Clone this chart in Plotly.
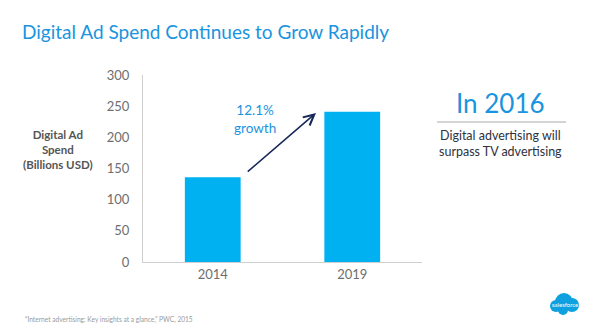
import plotly.graph_objects as go

years = ["2014", "2019"]
spend = [136, 241]
y_ticks = [0, 50, 100, 150, 200, 250, 300]
growth_label = "12.1%<br>growth"

W, H = 600, 329
L, R, T, B = 143, 422, 75, 262

def px(x):
    return (x - L) / (R - L)

def py(y):
    return (B - y) / (B - T)

FONT = "Lato"
BLUE_TXT = "#1a94de"
BAR = "#00b1f2"

fig = go.Figure()
fig.add_trace(go.Bar(x=[0, 1], y=spend, width=0.4, marker=dict(color=BAR, line=dict(width=0)),
                     hoverinfo="skip"))

C = dict(xanchor="center", yanchor="middle", showarrow=False)
anns = []
# arrow from 2014 bar top to 2019 bar top
anns.append(dict(x=0.74, y=spend[1] - 2, xref="x", yref="y", ax=0.24, ay=spend[0] + 7,
                 axref="x", ayref="y", showarrow=True, arrowhead=5, arrowsize=1.3,
                 arrowwidth=1.6, arrowcolor="#17285a", text=""))
anns.append(dict(x=0.30, y=229, xref="x", yref="y", text=growth_label, align="center",
                 font=dict(family=FONT, size=13.5, color=BLUE_TXT), **C))
# y-axis title
anns.append(dict(x=px(58), y=py(149), xref="paper", yref="paper",
                 text="<b>Digital Ad<br>Spend<br>(Billions USD)</b>", align="center",
                 font=dict(family=FONT, size=11.5, color="#555555"), **C))
# right callout
anns.append(dict(x=px(500), y=py(103), xref="paper", yref="paper", text="In 2016",
                 font=dict(family=FONT, size=26, color=BLUE_TXT), **C))
anns.append(dict(x=px(501), y=py(143), xref="paper", yref="paper",
                 text="Digital advertising will<br>surpass TV advertising", align="center",
                 font=dict(family=FONT, size=12.5, color="#2e3140"), **C))
# footer
anns.append(dict(x=px(23), y=py(319), xref="paper", yref="paper", xanchor="left",
                 yanchor="middle", showarrow=False,
                 text="\u201cInternet advertising: Key insights at a glance,\u201d PWC, 2015",
                 font=dict(family=FONT, size=6.6, color="#9a9a9a")))
anns.append(dict(x=px(564.5), y=py(304), xref="paper", yref="paper", text="salesforce",
                 font=dict(family=FONT, size=6, color="white"), **C))

shapes = [dict(type="line", xref="paper", yref="paper", x0=px(437), x1=px(566),
               y0=py(122), y1=py(122), line=dict(color="#a9aab0", width=1.2))]
for cx, cy, r in [(564, 302, 9), (556, 306, 6), (572, 305, 7), (563, 310, 5)]:
    shapes.append(dict(type="circle", xref="paper", yref="paper",
                       x0=px(cx - r), x1=px(cx + r), y0=py(cy + r), y1=py(cy - r),
                       fillcolor="#0fa0e0", line=dict(width=0), layer="above"))

fig.update_layout(
    width=W, height=H, margin=dict(l=L, r=W - R, t=T, b=H - B),
    paper_bgcolor="white", plot_bgcolor="white", showlegend=False,
    font=dict(family=FONT),
    title=dict(text="Digital Ad Spend Continues to Grow Rapidly", x=22 / W, xanchor="left",
               xref="container", y=1 - 32 / H, yanchor="middle", yref="container",
               font=dict(family=FONT, size=19, color=BLUE_TXT)),
    xaxis=dict(range=[-0.5, 1.5], tickvals=[0, 1], ticktext=years, showgrid=False,
               zeroline=False, showline=True, linecolor="#cfcfcf", linewidth=1.3, ticks="",
               tickfont=dict(family=FONT, size=13, color="#6e6e6e"), fixedrange=True),
    yaxis=dict(range=[0, 300], tickvals=y_ticks, showgrid=False, zeroline=False,
               showline=True, linecolor="#cfcfcf", linewidth=1.3, ticks="",
               ticklabelstandoff=10,
               tickfont=dict(family=FONT, size=13, color="#6e6e6e"), fixedrange=True),
    annotations=anns, shapes=shapes,
)

fig.write_html("out.html")
